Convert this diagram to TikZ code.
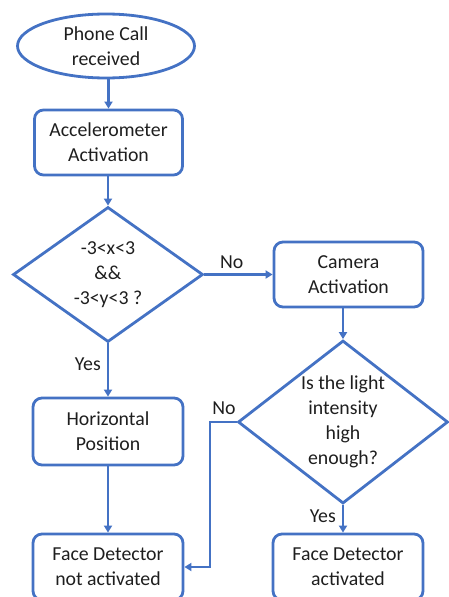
\documentclass[tikz,border=0pt]{standalone}
\usepackage{fontspec}
\setmainfont{Carlito}
\usetikzlibrary{shapes.geometric,arrows.meta}
\definecolor{fblue}{HTML}{4472C4}
\definecolor{ftext}{HTML}{1E1E1E}
\tikzset{
  x=1pt, y=-1pt,
  base/.style={draw=fblue, line width=2.8pt, text=ftext, align=center, inner sep=0pt,
    font=\fontsize{19.8}{25}\selectfont},
  proc/.style={base, rectangle, rounded corners=9pt},
  term/.style={base, ellipse},
  dec/.style={base, diamond},
  conn/.style={draw=fblue, line width=2.5pt, -{Triangle[length=7pt,width=8pt]}},
  lbl/.style={text=ftext, font=\fontsize{19.8}{25}\selectfont, inner sep=0pt}
}
\begin{document}
\begin{tikzpicture}
\useasboundingbox (0,0) rectangle (448,597);
\node[term, minimum width=177pt, minimum height=64pt] (start) at (106,46) {Phone Call\\received};
\node[proc, minimum width=148pt, minimum height=65pt] (acc) at (108.5,142.5) {Accelerometer\\Activation};
\node[dec, minimum width=190pt, minimum height=135pt,
  label={[lbl, align=center]center:{-3<x<3\\\&\&\\-3<y<3 ?}}] (d1) at (108,274.5) {};
\node[proc, minimum width=149pt, minimum height=65pt] (cam) at (348.5,274.5) {Camera\\Activation};
\node[dec, minimum width=210pt, minimum height=163pt,
  label={[lbl, align=center]center:{Is the light\\intensity\\high\\enough?}}] (d2) at (343,422) {};
\node[proc, minimum width=150pt, minimum height=67pt] (hor) at (108,431.5) {Horizontal\\Position};
\node[proc, minimum width=150pt, minimum height=66pt] (fdn) at (108,567) {Face Detector\\not activated};
\node[proc, minimum width=150pt, minimum height=66pt] (fda) at (348,567) {Face Detector\\activated};
\coordinate (bend) at (210,422);

\draw[conn] (start.south -| acc.north) -- (acc.north);
\draw[conn] (acc.south -| d1.north) -- (d1.north);
\draw[conn] (d1.east) -- (cam.west) node[lbl, pos=0.4, above=5pt] (no1) {No};
\draw[conn] (cam.south -| d2.north) -- (d2.north);
\draw[conn] (d1.south) -- (hor.north) node[lbl, pos=0.4, left=6pt] (yes1) {Yes};
\draw[conn] (hor.south) -- (fdn.north);
\draw[conn] (d2.west) -- (bend) |- (fdn.east);
\node[lbl] (no2) at (224,408) {No};
\draw[conn] (d2.south) -- (d2.south |- fda.north) node[lbl, pos=0.4, left=6pt] (yes2) {Yes};
\end{tikzpicture}
\end{document}
